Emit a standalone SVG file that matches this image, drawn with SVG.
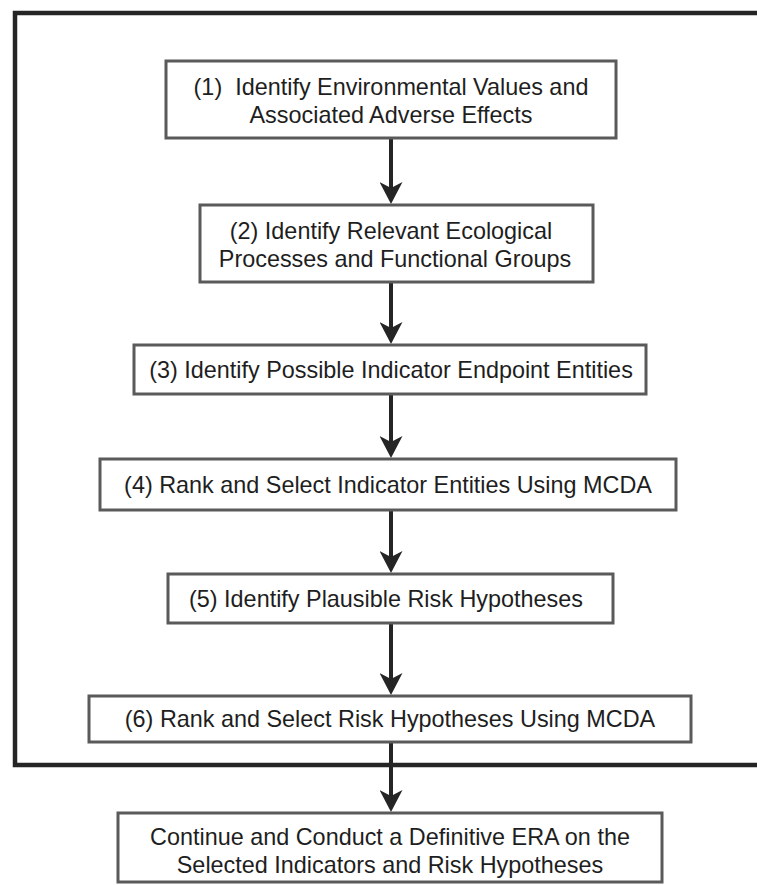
<svg xmlns="http://www.w3.org/2000/svg" width="757" height="885" viewBox="0 0 757 885">
<style>
.box{fill:#fff;stroke:#5a5a5a;stroke-width:3}
.t{font-family:"Liberation Sans",Arial,sans-serif;font-size:23.4px;fill:#1e1e1e;text-anchor:middle}
.c{stroke:#252525;stroke-width:4;fill:none}
.frame{fill:none;stroke:#252525;stroke-width:4.5}
</style>
<defs>
<marker id="ah" viewBox="0 0 22 23" refX="11" refY="11.5" markerWidth="22" markerHeight="23" markerUnits="userSpaceOnUse" orient="auto">
<path d="M0,0 L22,11.5 L0,23 L6,11.5 Z" fill="#252525"/>
</marker>
</defs>
<rect width="757" height="885" fill="#fff"/>
<path class="frame" d="M760,13 H15 V765 H760"/>
<g id="connectors">
<line class="c" x1="391" y1="138" x2="391" y2="193" marker-end="url(#ah)"/>
<line class="c" x1="391" y1="282" x2="391" y2="333" marker-end="url(#ah)"/>
<line class="c" x1="391" y1="394" x2="391" y2="447" marker-end="url(#ah)"/>
<line class="c" x1="391" y1="510" x2="391" y2="562" marker-end="url(#ah)"/>
<line class="c" x1="391" y1="623" x2="391" y2="684" marker-end="url(#ah)"/>
<line class="c" x1="391" y1="742" x2="391" y2="801" marker-end="url(#ah)"/>
</g>
<g id="n1">
<rect class="box" x="166" y="61" width="450" height="77"/>
<text class="t" x="391" y="95">(1)&#160; Identify Environmental Values and</text>
<text class="t" x="391" y="123">Associated Adverse Effects</text>
</g>
<g id="n2">
<rect class="box" x="200" y="205" width="393" height="77"/>
<text class="t" x="391" y="239">(2) Identify Relevant Ecological</text>
<text class="t" x="395" y="267">Processes and Functional Groups</text>
</g>
<g id="n3">
<rect class="box" x="134" y="345" width="512" height="49"/>
<text class="t" x="391" y="378">(3) Identify Possible Indicator Endpoint Entities</text>
</g>
<g id="n4">
<rect class="box" x="100" y="459" width="576" height="51"/>
<text class="t" x="388" y="493">(4) Rank and Select Indicator Entities Using MCDA</text>
</g>
<g id="n5">
<rect class="box" x="168" y="574" width="445" height="49"/>
<text class="t" x="386" y="607">(5) Identify Plausible Risk Hypotheses</text>
</g>
<g id="n6">
<rect class="box" x="89" y="696" width="602" height="46"/>
<text class="t" x="390" y="727">(6) Rank and Select Risk Hypotheses Using MCDA</text>
</g>
<g id="n7">
<rect class="box" x="118" y="813" width="544" height="69"/>
<text class="t" x="390" y="845">Continue and Conduct a Definitive ERA on the</text>
<text class="t" x="390" y="873">Selected Indicators and Risk Hypotheses</text>
</g>
</svg>
